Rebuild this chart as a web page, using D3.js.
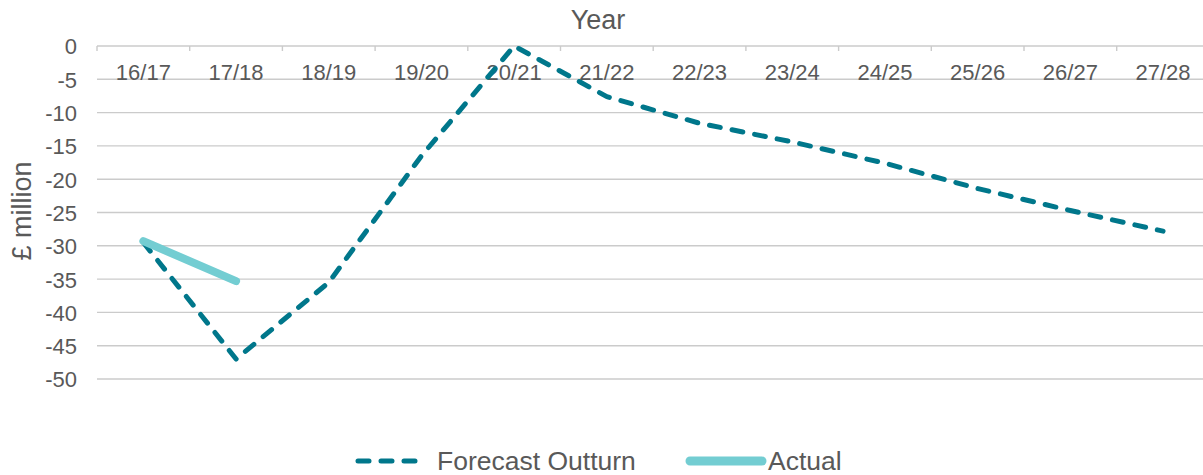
<!DOCTYPE html>
<html>
<head>
<meta charset="utf-8">
<script src="https://cdn.jsdelivr.net/npm/d3@7"></script>
<style>
  html, body { margin: 0; padding: 0; background: #fff; }
  svg { display: block; font-family: "Liberation Sans", Arial, sans-serif; }
</style>
</head>
<body>
<svg id="chart" width="1203" height="475"></svg>
<script>
// Financial years on the category axis
const years = ["16/17", "17/18", "18/19", "19/20", "20/21", "21/22", "22/23", "23/24", "24/25", "25/26", "26/27", "27/28"];
// Forecast outturn, £ million
const forecast = [-29.5, -47, -35.5, -16.5, 0, -7.6, -11.6, -14.4, -17.6, -21.4, -24.7, -27.8];
// Actual outturn, £ million (only first two years reported)
const actualYears = ["16/17", "17/18"];
const actual = [-29.3, -35.3];
// Value axis ticks
const yTicks = [0, -5, -10, -15, -20, -25, -30, -35, -40, -45, -50];

const textColor = "#595959";
const gridColor = "#cbcbcb";
const forecastColor = "#00778b";
const actualColor = "#73cdd2";

const svg = d3.select("#chart");

const x = d3.scaleBand().domain(years).range([97, 1209.4]).padding(0);
const y = d3.scaleLinear().domain([-50, 0]).range([379, 46]);
const cx = d => x(d) + x.bandwidth() / 2;

// Horizontal gridlines
svg.append("g")
  .selectAll("line")
  .data(yTicks)
  .join("line")
  .attr("x1", 97).attr("x2", 1209.4)
  .attr("y1", d => y(d)).attr("y2", d => y(d))
  .attr("stroke", gridColor)
  .attr("stroke-width", 1.4);

// Category axis along the zero line: tick marks at band boundaries
const xAxis = d3.axisBottom(x).tickSize(0).tickPadding(0);
const gx = svg.append("g").attr("transform", `translate(0,${y(0)})`).call(xAxis);
gx.select(".domain").remove();
gx.selectAll(".tick text")
  .attr("y", 34)
  .attr("dy", 0)
  .attr("fill", textColor)
  .attr("font-size", "22px")
  .attr("font-family", "Liberation Sans, Arial, sans-serif");

const bounds = years.map(d => x(d)).concat([x(years[years.length - 1]) + x.bandwidth()]);
svg.append("g")
  .selectAll("line")
  .data(bounds)
  .join("line")
  .attr("x1", d => d).attr("x2", d => d)
  .attr("y1", y(0)).attr("y2", y(0) + 5)
  .attr("stroke", gridColor)
  .attr("stroke-width", 1.4);

// Value axis labels (plain hyphen for negatives)
const yAxis = d3.axisLeft(y).tickValues(yTicks).tickSize(0).tickPadding(0).tickFormat(d => String(d));
const gy = svg.append("g").attr("transform", "translate(77,0)").call(yAxis);
gy.select(".domain").remove();
gy.selectAll(".tick text")
  .attr("fill", textColor)
  .attr("font-size", "22px")
  .attr("font-family", "Liberation Sans, Arial, sans-serif")
  .attr("dy", "0.36em");

// Axis titles
svg.append("text")
  .attr("x", 598).attr("y", 29)
  .attr("text-anchor", "middle")
  .attr("fill", textColor)
  .attr("font-size", "27px")
  .text("Year");

svg.append("text")
  .attr("transform", "translate(31,211) rotate(-90)")
  .attr("text-anchor", "middle")
  .attr("fill", textColor)
  .attr("font-size", "27px")
  .text("£ million");

// Series lines
const line = d3.line().x(d => cx(d[0])).y(d => y(d[1]));

svg.append("path")
  .datum(years.map((d, i) => [d, forecast[i]]))
  .attr("d", line)
  .attr("fill", "none")
  .attr("stroke", forecastColor)
  .attr("stroke-width", 5)
  .attr("stroke-dasharray", "11,12")
  .attr("stroke-linecap", "round")
  .attr("stroke-linejoin", "round");

svg.append("path")
  .datum(actualYears.map((d, i) => [d, actual[i]]))
  .attr("d", line)
  .attr("fill", "none")
  .attr("stroke", actualColor)
  .attr("stroke-width", 8)
  .attr("stroke-linecap", "round")
  .attr("stroke-linejoin", "round");

// Legend
const legend = svg.append("g").attr("transform", "translate(0,461)");
legend.append("line")
  .attr("x1", 358).attr("x2", 418).attr("y1", 0).attr("y2", 0)
  .attr("stroke", forecastColor)
  .attr("stroke-width", 5)
  .attr("stroke-dasharray", "11,12")
  .attr("stroke-linecap", "round");
legend.append("text")
  .attr("x", 437).attr("y", 8.5)
  .attr("fill", textColor)
  .attr("font-size", "26.5px")
  .text("Forecast Outturn");
legend.append("line")
  .attr("x1", 690).attr("x2", 762).attr("y1", 0).attr("y2", 0)
  .attr("stroke", actualColor)
  .attr("stroke-width", 9)
  .attr("stroke-linecap", "round");
legend.append("text")
  .attr("x", 768).attr("y", 8.5)
  .attr("fill", textColor)
  .attr("font-size", "26.5px")
  .text("Actual");
</script>
</body>
</html>
